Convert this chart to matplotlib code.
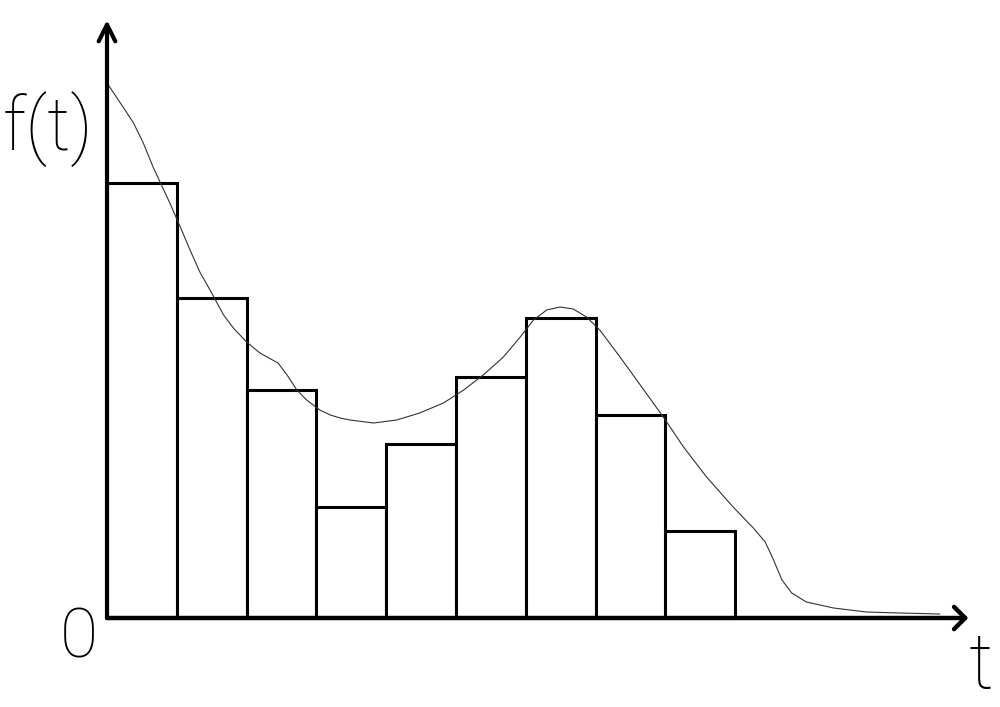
import numpy as np
import matplotlib
matplotlib.use("Agg")
from matplotlib import pyplot as plt

# bar heights (histogram of f(t)), bar width = 1 unit of t
bar_heights = [4.35, 3.20, 2.28, 1.11, 1.74, 2.41, 3.00, 2.03, 0.87]

# density curve
curve_t = [0.00, 0.23, 0.38, 0.52, 0.66, 0.78, 0.90, 1.05, 1.19, 1.33,
           1.50, 1.67, 1.81, 2.00, 2.19, 2.45, 2.58, 2.72, 2.86, 3.05,
           3.20, 3.34, 3.48, 3.82, 4.15, 4.48, 4.82, 5.11, 5.39, 5.68,
           5.92, 6.11, 6.30, 6.49, 6.68, 6.87, 7.06, 7.35, 7.64, 7.97,
           8.26, 8.59, 8.97, 9.26, 9.43, 9.55, 9.67, 9.81, 10.02, 10.41,
           10.88, 11.36, 11.93]
curve_f = [5.35, 5.11, 4.95, 4.75, 4.51, 4.33, 4.15, 3.91, 3.68, 3.46,
           3.25, 3.03, 2.90, 2.76, 2.65, 2.55, 2.43, 2.28, 2.18, 2.08,
           2.03, 2.00, 1.98, 1.95, 1.98, 2.05, 2.15, 2.28, 2.43, 2.61,
           2.81, 2.98, 3.08, 3.11, 3.09, 3.01, 2.88, 2.61, 2.33, 2.01,
           1.71, 1.41, 1.11, 0.90, 0.76, 0.58, 0.38, 0.25, 0.16, 0.10,
           0.06, 0.05, 0.04]

fig = plt.figure(figsize=(10, 7.07), dpi=100)
ax = fig.add_axes([0, 0, 1, 1])
ax.set_xlim(-1.533, 12.794)
ax.set_ylim(-0.89, 6.18)
ax.axis('off')

x = np.arange(len(bar_heights))
ax.bar(x, bar_heights, width=1.0, align='edge', facecolor='white',
       edgecolor='black', linewidth=2.2, zorder=2)

ax.plot(curve_t, curve_f, color='#333333', linewidth=0.8, zorder=3,
        solid_joinstyle='round')

# axes with arrows
ax.annotate('', xy=(0, 5.98), xytext=(0, 0),
            arrowprops=dict(arrowstyle='->,head_length=0.6,head_width=0.3',
                            lw=3, color='black', shrinkA=0, shrinkB=0,
                            mutation_scale=20), zorder=4)
ax.annotate('', xy=(12.34, 0), xytext=(0, 0),
            arrowprops=dict(arrowstyle='->,head_length=0.4,head_width=0.4',
                            lw=3.2, color='black', shrinkA=0, shrinkB=0,
                            mutation_scale=20), zorder=4)

fam = ['Roboto', 'DejaVu Sans']
ax.text(-1.50, 4.68, 'f(t)', fontsize=53, family=fam, fontweight='light',
        ha='left', va='baseline')
ax.text(-0.40, -0.39, '0', fontsize=50, family=fam, fontweight='light',
        ha='center', va='baseline')
ax.text(12.52, -0.86, 't', fontsize=56, family=fam, fontweight='light',
        ha='center', va='bottom')

fig.savefig('out.png', dpi=100, facecolor='white')
